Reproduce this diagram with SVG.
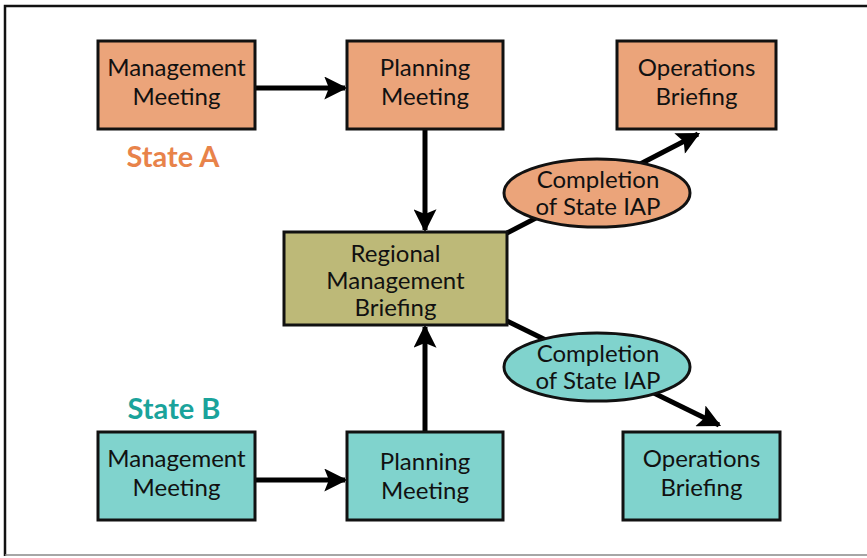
<svg xmlns="http://www.w3.org/2000/svg" width="867" height="558" viewBox="0 0 867 558">
<style>
.box{stroke:#111;stroke-width:3}
.a{fill:#EBA47A}
.b{fill:#80D3CD}
.r{fill:#BDB978}
.t{font-family:Lato,"Open Sans",sans-serif;font-size:24px;fill:#111;text-anchor:middle}
.lbl{font-family:Lato,"Open Sans",sans-serif;font-size:29px;font-weight:bold;text-anchor:middle}
.c{stroke:#000;stroke-width:5;fill:none}
</style>
<defs>
<marker id="ah" viewBox="0 0 10 10" refX="9" refY="5" markerWidth="5" markerHeight="4.6" markerUnits="strokeWidth" orient="auto">
<path d="M0,0 L10,5 L0,10 L2,5 Z" fill="#000"/>
</marker>
</defs>
<rect x="0" y="0" width="867" height="558" fill="#fff"/>
<path d="M5,556 L5,6 L867,6" fill="none" stroke="#111" stroke-width="2.5"/>
<line x1="5" y1="555" x2="867" y2="555" stroke="#888" stroke-width="1.5"/>
<g id="connectors">
<line class="c" x1="256" y1="88" x2="345" y2="88" marker-end="url(#ah)"/>
<line class="c" x1="425" y1="130" x2="425" y2="230" marker-end="url(#ah)"/>
<line class="c" x1="256" y1="480" x2="345" y2="480" marker-end="url(#ah)"/>
<line class="c" x1="425" y1="431" x2="425" y2="327" marker-end="url(#ah)"/>
<line class="c" x1="507" y1="233" x2="698" y2="134" marker-end="url(#ah)"/>
<line class="c" x1="507" y1="321" x2="719" y2="425" marker-end="url(#ah)"/>
</g>
<g id="mgmtA"><rect class="box a" x="98" y="41" width="157" height="88"/><text class="t" x="176.5" y="76">Management</text><text class="t" x="176.5" y="105">Meeting</text></g>
<g id="planA"><rect class="box a" x="347" y="41" width="156" height="88"/><text class="t" x="425" y="76">Planning</text><text class="t" x="425" y="105">Meeting</text></g>
<g id="opsA"><rect class="box a" x="617" y="41" width="159" height="88"/><text class="t" x="696.5" y="76">Operations</text><text class="t" x="696.5" y="105">Briefing</text></g>
<g id="stateA"><text class="lbl" x="173" y="167" fill="#E8834A">State A</text></g>
<g id="regional"><rect class="box r" x="284" y="232" width="223" height="93"/><text class="t" x="395.5" y="262">Regional</text><text class="t" x="395.5" y="289">Management</text><text class="t" x="395.5" y="316">Briefing</text></g>
<g id="iapA"><ellipse class="box a" cx="597" cy="193" rx="93" ry="34"/><text class="t" x="598" y="188">Completion</text><text class="t" x="598" y="215">of State IAP</text></g>
<g id="iapB"><ellipse class="box b" cx="597" cy="367" rx="93" ry="34"/><text class="t" x="598" y="362">Completion</text><text class="t" x="598" y="389">of State IAP</text></g>
<g id="stateB"><text class="lbl" x="174" y="419" fill="#1AA39B">State B</text></g>
<g id="mgmtB"><rect class="box b" x="98" y="432" width="157" height="88"/><text class="t" x="176.5" y="467">Management</text><text class="t" x="176.5" y="496">Meeting</text></g>
<g id="planB"><rect class="box b" x="347" y="432" width="156" height="88"/><text class="t" x="425" y="470">Planning</text><text class="t" x="425" y="499">Meeting</text></g>
<g id="opsB"><rect class="box b" x="623" y="432" width="157" height="88"/><text class="t" x="701.5" y="467">Operations</text><text class="t" x="701.5" y="496">Briefing</text></g>
</svg>
